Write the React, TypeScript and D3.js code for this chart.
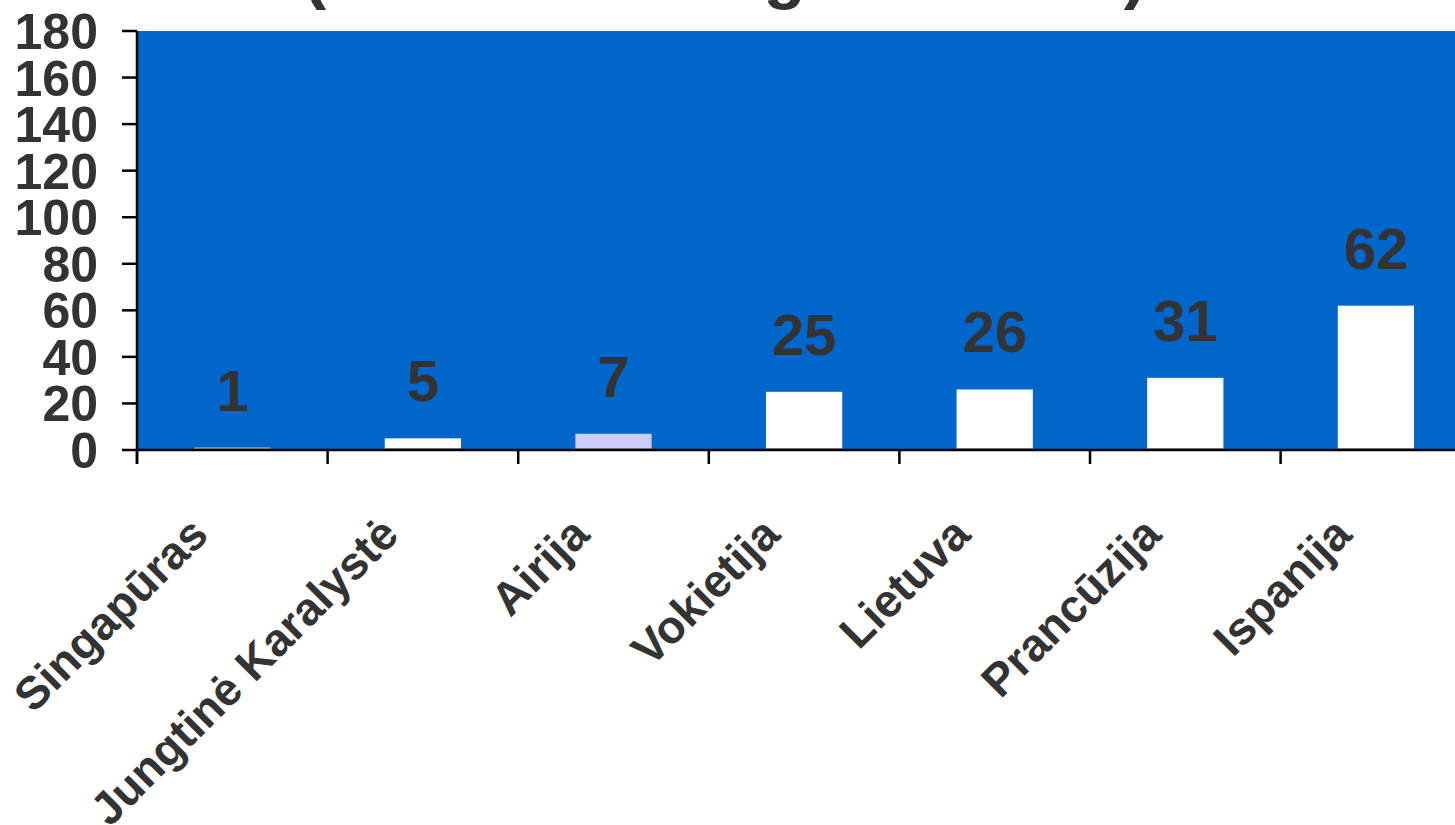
import React from "react";
import * as d3 from "d3";

const categories = ["Singapūras", "Jungtinė Karalystė", "Airija", "Vokietija", "Lietuva", "Prancūzija", "Ispanija"];
const values = [1, 5, 7, 25, 26, 31, 62];
const barColors = ["#FFFFFF", "#FFFFFF", "#CCCCFF", "#FFFFFF", "#FFFFFF", "#FFFFFF", "#FFFFFF"];
const yTicks = [0, 20, 40, 60, 80, 100, 120, 140, 160, 180];
const titleText = "(rodiklis 1000 gimusiems)";

const W = 1455;
const H = 825;
const left = 137;
const top = 31;
const bottom = 450;
const step = 190.6;
const right = left + step * categories.length;
const font = "Arial, 'Liberation Sans', sans-serif";
const textColor = "#333333";

export default function App() {
  const x = d3.scaleBand<string>().domain(categories).range([left, right]).paddingInner(0.6).paddingOuter(0.3);
  const y = d3.scaleLinear().domain([0, 180]).range([bottom, top]);
  const boundaries = d3.range(categories.length + 1).map((i) => left + i * x.step());

  return (
    <svg width={W} height={H} style={{ position: "absolute", left: 0, top: 0 }} fontFamily={font}>
      <rect x={0} y={0} width={W} height={H} fill="#FFFFFF" />
      <text x={725} y={-4} textAnchor="middle" fontSize={69} fontWeight="bold" fill={textColor}>
        {titleText}
      </text>
      <rect x={left} y={top} width={right - left} height={bottom - top} fill="#0066CC" />
      {categories.map((c, i) => (
        <rect key={c} x={x(c)} y={y(values[i])} width={x.bandwidth()} height={bottom - y(values[i])} fill={barColors[i]} />
      ))}
      {categories.map((c) => (
        <rect key={c + "-b"} x={x(c)} y={bottom - 2} width={x.bandwidth()} height={1.2} fill="#999999" />
      ))}
      {categories.map((c, i) => (
        <text
          key={c + "-v"}
          x={(x(c) as number) + x.bandwidth() / 2}
          y={y(values[i]) - 37}
          textAnchor="middle"
          fontSize={58}
          fontWeight="bold"
          fill={textColor}
        >
          {values[i]}
        </text>
      ))}
      {/* y axis */}
      <line x1={left} y1={top} x2={left} y2={bottom + 14} stroke="#000" strokeWidth={2.5} />
      {yTicks.map((t) => (
        <g key={t}>
          <line x1={left - 15} x2={left} y1={y(t)} y2={y(t)} stroke="#000" strokeWidth={2.5} />
          <text x={98} y={y(t)} dy="0.36em" textAnchor="end" fontSize={50} fontWeight="bold" fill={textColor}>
            {t}
          </text>
        </g>
      ))}
      {/* x axis */}
      <line x1={left} y1={bottom} x2={right} y2={bottom} stroke="#000" strokeWidth={2.5} />
      {boundaries.map((b, i) => (
        <line key={i} x1={b} x2={b} y1={bottom} y2={bottom + 14} stroke="#000" strokeWidth={2.5} />
      ))}
      {categories.map((c) => {
        const cx = (x(c) as number) + x.bandwidth() / 2 - 22;
        const cy = 537;
        return (
          <text
            key={c + "-l"}
            x={cx}
            y={cy}
            transform={`rotate(-45 ${cx} ${cy})`}
            textAnchor="end"
            fontSize={46}
            fontWeight="bold"
            fill={textColor}
          >
            {c}
          </text>
        );
      })}
    </svg>
  );
}
